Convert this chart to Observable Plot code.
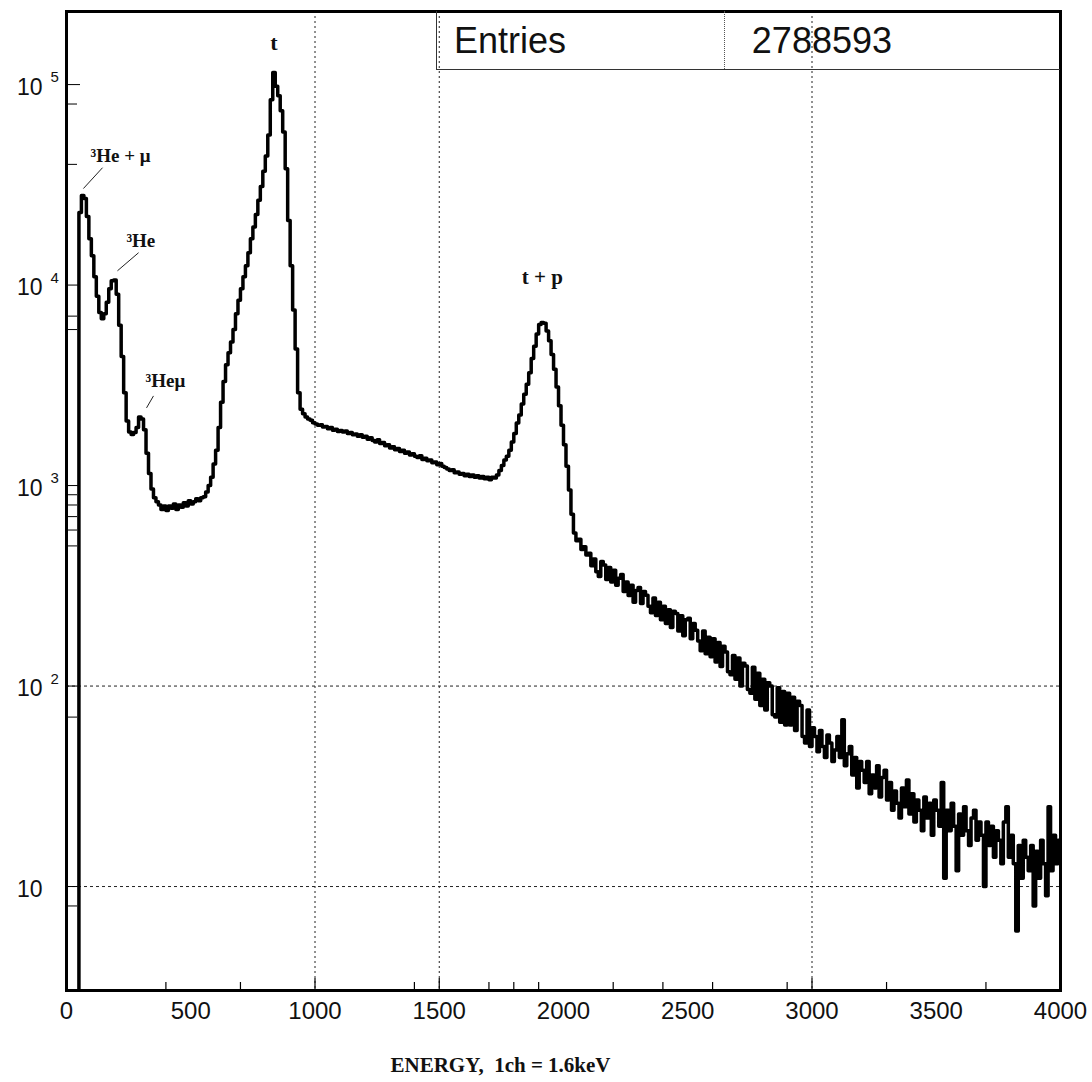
<!DOCTYPE html>
<html>
<head>
<meta charset="utf-8">
<script src="https://cdn.jsdelivr.net/npm/d3@7"></script>
<script src="https://cdn.jsdelivr.net/npm/@observablehq/plot@0.6"></script>
<style>
  html, body { margin: 0; padding: 0; background: #fff; }
  #wrap { position: relative; width: 1092px; height: 1082px; }
  #stats { position: absolute; left: 436px; top: 11px; width: 624px; height: 59px;
           border-left: 1.5px solid #333; border-bottom: 1.5px solid #333; box-sizing: border-box;
           font-family: "Liberation Sans", Arial, sans-serif; font-size: 36px; color: #111; }
  #stats .lab { position: absolute; left: 17px; top: 9px; }
  #stats .val { position: absolute; right: 168px; top: 9px; }
  #stats .div { position: absolute; left: 287px; top: 0; height: 100%; border-left: 1px dotted #555; }
</style>
</head>
<body>
<div id="wrap"><div id="chart"></div><div id="stats"><div class="div"></div><span class="lab"></span><span class="val"></span></div></div>
<script>
// ---- data ----
const binWidth = 10;          // channels per bin
const counts = [
  1,1,1,1,1,23000,28000,27000,22000,17000,
  14000,11000,8800,7300,6800,7200,8200,9600,10500,10600,
  9000,6300,4400,2900,2100,1850,1800,1840,1950,2200,
  2150,1900,1450,1150,960,870,830,800,760,790,
  750,790,770,810,760,800,780,820,790,840,
  810,830,860,840,870,880,930,1000,1100,1280,
  1500,1950,2600,3300,4000,4600,5200,6000,7200,8400,
  9600,11000,12500,14500,17000,19500,22500,26500,31000,37000,
  44000,56000,84000,115000,98000,88000,74000,58000,38000,21000,
  12500,7500,4800,2900,2400,2280,2200,2150,2120,2060,
  2030,2000,2010,1960,1970,1920,1950,1890,1910,1860,
  1880,1850,1870,1820,1840,1790,1810,1760,1790,1740,
  1760,1700,1730,1680,1650,1690,1620,1640,1580,1600,
  1540,1560,1510,1530,1480,1500,1450,1470,1420,1440,
  1400,1380,1410,1350,1370,1330,1340,1300,1310,1270,
  1290,1250,1230,1210,1190,1200,1160,1170,1140,1150,
  1120,1140,1110,1130,1100,1120,1090,1110,1080,1100,
  1070,1100,1090,1130,1190,1260,1340,1400,1500,1650,
  1820,2050,2250,2550,2850,3200,3650,4300,4950,5700,
  6350,6500,6450,5900,5270,4500,3800,3100,2500,2000,
  1600,1250,950,720,580,530,540,480,495,450,
  460,398,430,372,352,418,402,340,390,330,
  378,318,345,360,296,330,283,318,262,300,
  310,258,296,284,250,232,275,225,262,214,
  250,205,240,196,236,230,188,224,178,214,
  218,172,205,190,168,150,188,145,175,140,
  172,132,165,125,158,148,118,114,142,108,
  138,100,130,126,96,92,124,86,116,80,
  108,76,104,100,72,70,98,66,94,64,
  92,64,88,60,84,80,56,52,76,50,
  62,56,47,60,50,44,57,52,42,48,
  56,44,68,40,46,50,36,44,31,42,
  38,33,42,29,36,31,40,28,35,38,
  27,33,24,30,26,22,31,25,34,23,
  29,21,27,24,19,28,22,26,18,27,
  24,20,33,11,24,19,26,20,12,23,
  18,25,19,16,22,24,17,21,18,10,
  21,16,20,14,19,17,13,21,25,14,
  18,13,6,16,11,17,14,12,16,8,
  15,11,17,13,9,25,12,18,13,17
];
const entries = "2788593";
const xDomain = [0, 4000];
const yDomain = [3.03, 231500];
const xLabelTicks = [0, 500, 1000, 1500, 2000, 2500, 3000, 3500, 4000];
const xMinorTicks = [400, 700, 1400, 1700, 1800, 1900, 2200, 2400, 2600, 2900, 3300, 3700];
const xMajorTicks = [1000, 1500, 3000];
const yMajorTicks = [10, 100, 1000, 10000, 100000];
const yMinorTicks = [8, 70, 500, 600, 700, 800, 900, 6000, 7000, 40000, 80000];
const xGrid = [1000, 1500, 3000];
const yGrid = [10, 100];
// peak labels
const peakLabels = ["t", "t\u00a0+\u00a0p"];
const peakBins = [830, 1910];
// annotations with leader lines (channel, counts)
const annLabels = ["\u00b3He\u00a0+\u00a0\u03bc", "\u00b3He", "\u00b3He\u03bc"];
const annTextCh = [97, 241, 318];
const annTextN = [44300, 16600, 3330];
const leadFromCh = [68, 205, 322];
const leadFromN = [30300, 11780, 2440];
const leadToCh = [145, 290, 350];
const leadToN = [38500, 14500, 2800];
const xTitle = "ENERGY,\u00a0\u00a01ch = 1.6keV";

// ---- build ----
const hist = counts.map((n, i) => ({ch: i * binWidth, n}));
hist.push({ch: xDomain[1], n: counts[counts.length - 1]});
const peaks = peakLabels.map((label, i) => ({label, ch: peakBins[i] + binWidth / 2, n: counts[peakBins[i] / binWidth]}));
const anns = annLabels.map((label, i) => ({label, x: annTextCh[i], y: annTextN[i],
  x1: leadFromCh[i], y1: leadFromN[i], x2: leadToCh[i], y2: leadToN[i]}));

const sans = "'Liberation Sans', Arial, Helvetica, sans-serif";
const serif = "'Liberation Serif', 'Times New Roman', serif";

const chart = Plot.plot({
  width: 1092, height: 1082,
  marginLeft: 66, marginRight: 32, marginTop: 11, marginBottom: 92,
  style: {background: "white", color: "black"},
  x: {domain: xDomain, axis: null},
  y: {type: "log", domain: yDomain, axis: null},
  marks: [
    Plot.ruleY(yGrid, {stroke: "#222", strokeWidth: 1, strokeDasharray: "3,3"}),
    Plot.ruleX(xGrid, {stroke: "#222", strokeWidth: 1, strokeDasharray: "2,3"}),
    Plot.axisY(yMinorTicks, {anchor: "left", tickSize: -11, tickFormat: () => "", label: null, stroke: "black", strokeWidth: 1}),
    Plot.axisY(yMajorTicks, {anchor: "left", tickSize: -14, tickFormat: () => "", label: null, stroke: "black", strokeWidth: 1}),
    Plot.axisX(xMinorTicks, {anchor: "bottom", tickSize: -8, tickFormat: () => "", label: null, stroke: "black", strokeWidth: 1.2}),
    Plot.axisX(xMajorTicks, {anchor: "bottom", tickSize: -12, tickFormat: () => "", label: null, stroke: "black", strokeWidth: 1.2}),
    Plot.axisX(xLabelTicks, {anchor: "bottom", tickSize: 0, tickPadding: 11, tickFormat: d => String(d), label: null,
      fontSize: 24, fontFamily: sans, fill: "#111"}),
    Plot.text(yMajorTicks, {y: d => d, frameAnchor: "left", text: () => "10", textAnchor: "end", dx: -24, dy: 3,
      fontSize: 23, fontFamily: sans, fill: "#111"}),
    Plot.text(yMajorTicks.filter(d => d > 10), {y: d => d, frameAnchor: "left", text: d => String(Math.round(Math.log10(d))),
      textAnchor: "start", dx: -16, dy: -7, fontSize: 15, fontFamily: sans, fill: "#111"}),
    Plot.line(hist, {x: "ch", y: "n", curve: "step-after", stroke: "black", strokeWidth: 3.5, clip: true}),
    Plot.text([peaks[0]], {x: "ch", y: "n", text: "label", dy: -29, fontSize: 22, fontWeight: "bold", fontFamily: serif, fill: "#111"}),
    Plot.text([peaks[1]], {x: "ch", y: "n", text: "label", dy: -45, fontSize: 21, fontWeight: "bold", fontFamily: serif, fill: "#111"}),
    Plot.link(anns, {x1: "x1", y1: "y1", x2: "x2", y2: "y2", stroke: "#222", strokeWidth: 1}),
    Plot.text(anns, {x: "x", y: "y", text: "label", textAnchor: "start", fontSize: 19, fontWeight: "bold", fontFamily: serif, fill: "#111"}),
    Plot.frame({stroke: "black", strokeWidth: 3}),
    Plot.text([xTitle], {frameAnchor: "bottom", dx: -63, dy: 75, lineAnchor: "middle", fontSize: 21, fontWeight: "bold", fontFamily: serif, fill: "#111"})
  ]
});
document.getElementById("chart").appendChild(chart);
document.querySelector("#stats .lab").textContent = "Entries";
document.querySelector("#stats .val").textContent = entries;
</script>
</body>
</html>
